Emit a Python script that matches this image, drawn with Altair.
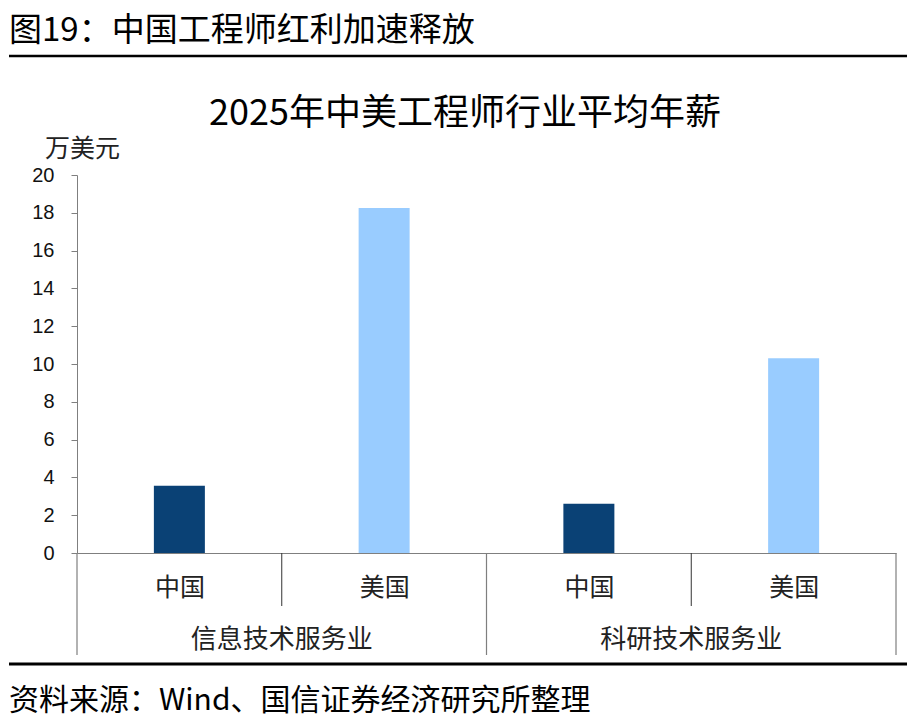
import json
import pandas as pd
import altair as alt

## Data
groups = ['信息技术服务业', '信息技术服务业', '科研技术服务业', '科研技术服务业']
countries = ['中国', '美国', '中国', '美国']
salary = [3.56, 18.25, 2.6, 10.3]   # 万美元
group_names = ['信息技术服务业', '科研技术服务业']
y_ticks = [0, 2, 4, 6, 8, 10, 12, 14, 16, 18, 20]

header = '图19：中国工程师红利加速释放'
chart_title = '2025年中美工程师行业平均年薪'
source_note = '资料来源：Wind、国信证券经济研究所整理'

bars_df = pd.DataFrame({
    'group': groups,
    'country': countries,
    'salary': salary,
    'pos': [i + 0.5 for i in range(len(countries))],
})
group_df = pd.DataFrame({'group': group_names, 'pos': [1.0, 3.0]})
long_seps = pd.DataFrame({'pos': [0, 2, 4]})
short_seps = pd.DataFrame({'pos': [1, 3]})

W, H = 819, 378
cjk = 'Noto Sans CJK SC'
axis_grey = '#7f7f7f'
# padding=0: no extra continuous padding for bars, so the group edges sit on the plot edges
x_scale = alt.Scale(domain=[0, len(countries)], nice=False, zero=False, padding=0)

bars = alt.Chart(bars_df).mark_bar(width=51).encode(
    x=alt.X('pos:Q', scale=x_scale,
            axis=alt.Axis(values=bars_df.pos.tolist(),
                          labelExpr=json.dumps(countries, ensure_ascii=False) + '[floor(datum.value)]',
                          ticks=False, grid=False, title=None,
                          domainColor=axis_grey, labelFont=cjk, labelFontSize=25,
                          labelColor='#222222', labelBaseline='middle', labelPadding=34)),
    y=alt.Y('salary:Q', scale=alt.Scale(domain=[0, 20], nice=False),
            axis=alt.Axis(values=y_ticks, grid=False, title='万美元', titleAngle=0,
                          titleX=5, titleY=-27, titleAlign='center', titleBaseline='middle',
                          titleFont=cjk, titleFontSize=25, titleFontWeight='normal', titleColor='#222222',
                          domainColor=axis_grey, tickColor=axis_grey, tickSize=6,
                          labelFont='Liberation Sans', labelFontSize=20, labelColor='#111111',
                          labelPadding=17)),
    color=alt.Color('country:N', scale=alt.Scale(domain=['中国', '美国'], range=['#0a4175', '#99ccff']),
                    legend=None),
)

long_rules = alt.Chart(long_seps).mark_rule(color=axis_grey, strokeWidth=1.2).encode(
    x=alt.X('pos:Q', scale=x_scale), y=alt.value(H), y2=alt.value(H + 102))
short_rules = alt.Chart(short_seps).mark_rule(color='#333333', strokeWidth=1).encode(
    x=alt.X('pos:Q', scale=x_scale), y=alt.value(H), y2=alt.value(H + 53))

group_labels = alt.Chart(group_df).mark_text(font=cjk, fontSize=26, color='#222222', baseline='middle').encode(
    x=alt.X('pos:Q', scale=x_scale), y=alt.value(H + 87), text='group:N')

def free_text(txt, x, y, size, align='left'):
    return alt.Chart(pd.DataFrame({'t': [txt]})).mark_text(
        font=cjk, fontSize=size, color='#000000', align=align, baseline='middle'
    ).encode(x=alt.value(x), y=alt.value(y), text='t:N')

def hline(y, width=2.5):
    return alt.Chart(pd.DataFrame({'a': [0]})).mark_rule(color='#000000', strokeWidth=width).encode(
        x=alt.value(-68), x2=alt.value(W + 11), y=alt.value(y))

chart = alt.layer(
    bars, long_rules, short_rules, group_labels,
    free_text(header, -68, -144, 33),
    hline(-119),
    free_text(chart_title, 388, -61, 36, align='center'),
    hline(489, 3),
    free_text(source_note, -68, 526, 30),
).properties(
    width=W, height=H,
    autosize=alt.AutoSizeParams(type='none'),
    padding={'left': 69, 'top': 167, 'right': 11, 'bottom': 162},
).configure_view(stroke=None)

chart.save('out.html', embed_options={'renderer': 'svg', 'actions': False})
